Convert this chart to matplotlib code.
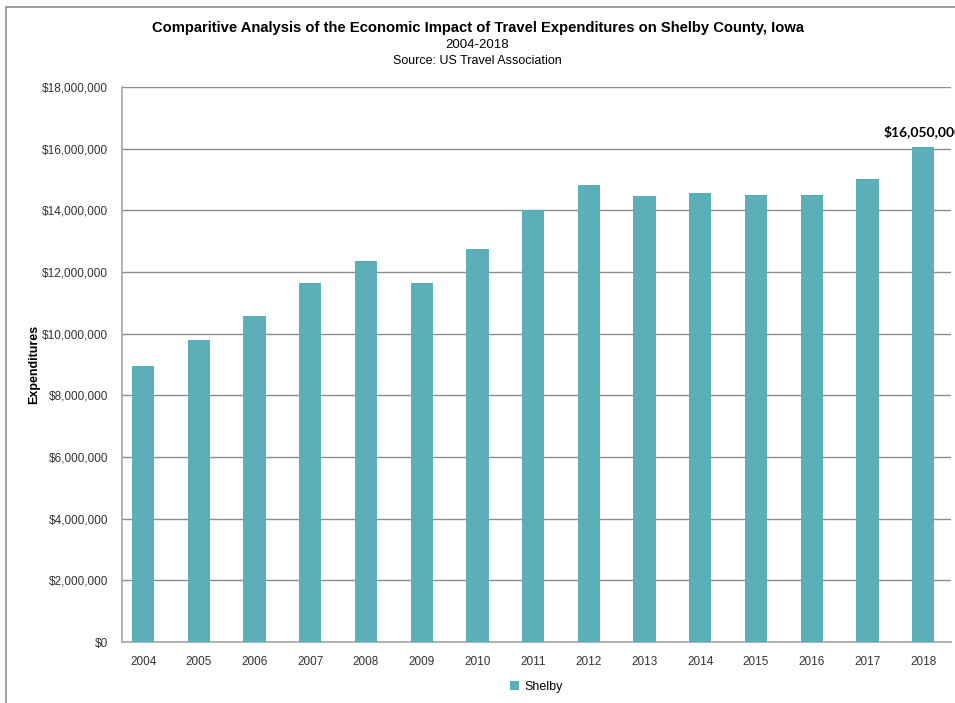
import matplotlib.pyplot as plt
import matplotlib.patches as patches
from matplotlib.ticker import FuncFormatter
import numpy as np

# Data
years = ['2004', '2005', '2006', '2007', '2008', '2009', '2010', '2011',
         '2012', '2013', '2014', '2015', '2016', '2017', '2018']
shelby = [8950000, 9800000, 10570000, 11650000, 12370000, 11650000, 12750000,
          14010000, 14820000, 14470000, 14560000, 14500000, 14500000,
          15010000, 16050000]
y_ticks = [0, 2000000, 4000000, 6000000, 8000000, 10000000, 12000000,
           14000000, 16000000, 18000000]

bar_color = '#5aafb8'
grid_color = '#8c8c8c'

plt.rcParams['font.family'] = ['Liberation Sans', 'DejaVu Sans']

fig = plt.figure(figsize=(9.55, 7.03), dpi=100)
ax = fig.add_axes([122 / 955, 1 - 642 / 703, (951 - 122) / 955, (642 - 87) / 703])

x = np.arange(len(years))
ax.bar(x, shelby, width=0.4, color=bar_color, label='Shelby', zorder=3)

ax.set_ylim(0, 18000000)
ax.set_xlim(-0.38, len(years) - 0.5)
ax.set_yticks(y_ticks)
ax.yaxis.set_major_formatter(FuncFormatter(lambda v, p: '${:,.0f}'.format(v)))
ax.set_xticks(x)
ax.set_xticklabels(years)
ax.tick_params(axis='both', length=0, labelsize=8.5, colors='#333333')
ax.tick_params(axis='x', pad=10)
ax.tick_params(axis='y', pad=10)
ax.yaxis.grid(True, color=grid_color, linewidth=1.0, zorder=0)

for side in ['top', 'right']:
    ax.spines[side].set_visible(False)
for side in ['left', 'bottom']:
    ax.spines[side].set_color('#a6a6a6')
    ax.spines[side].set_linewidth(1.2)

ax.set_ylabel('Expenditures', fontsize=9, fontweight='bold', labelpad=1)

# label on the last bar (cut off at the right edge, as in the original)
ax.text(x[-1], shelby[-1] + 300000, '${:,.0f}'.format(shelby[-1]),
        ha='center', va='bottom', fontsize=10, fontweight='bold',
        family=['Lato', 'DejaVu Sans'], clip_on=False)

# titles
fig.text(0.5, 1 - 28 / 703, 'Comparitive Analysis of the Economic Impact of Travel Expenditures on Shelby County, Iowa',
         ha='center', va='center', fontsize=10.6, fontweight='bold')
fig.text(0.5, 1 - 45 / 703, '2004-2018', ha='center', va='center', fontsize=9.5)
fig.text(0.5, 1 - 61 / 703, 'Source: US Travel Association', ha='center', va='center', fontsize=9)

leg = ax.legend(loc='upper center', bbox_to_anchor=(0.5, -0.05), frameon=False,
                fontsize=9, handlelength=0.7, handleheight=0.7, handletextpad=0.4)

# outer frame
fig.patches.append(patches.Rectangle((6 / 955, -0.01), 1.0, 1 - 7 / 703 + 0.01,
                                     transform=fig.transFigure, fill=False,
                                     edgecolor='#8c8c8c', linewidth=1.2))

fig.savefig('out.png', dpi=100)
